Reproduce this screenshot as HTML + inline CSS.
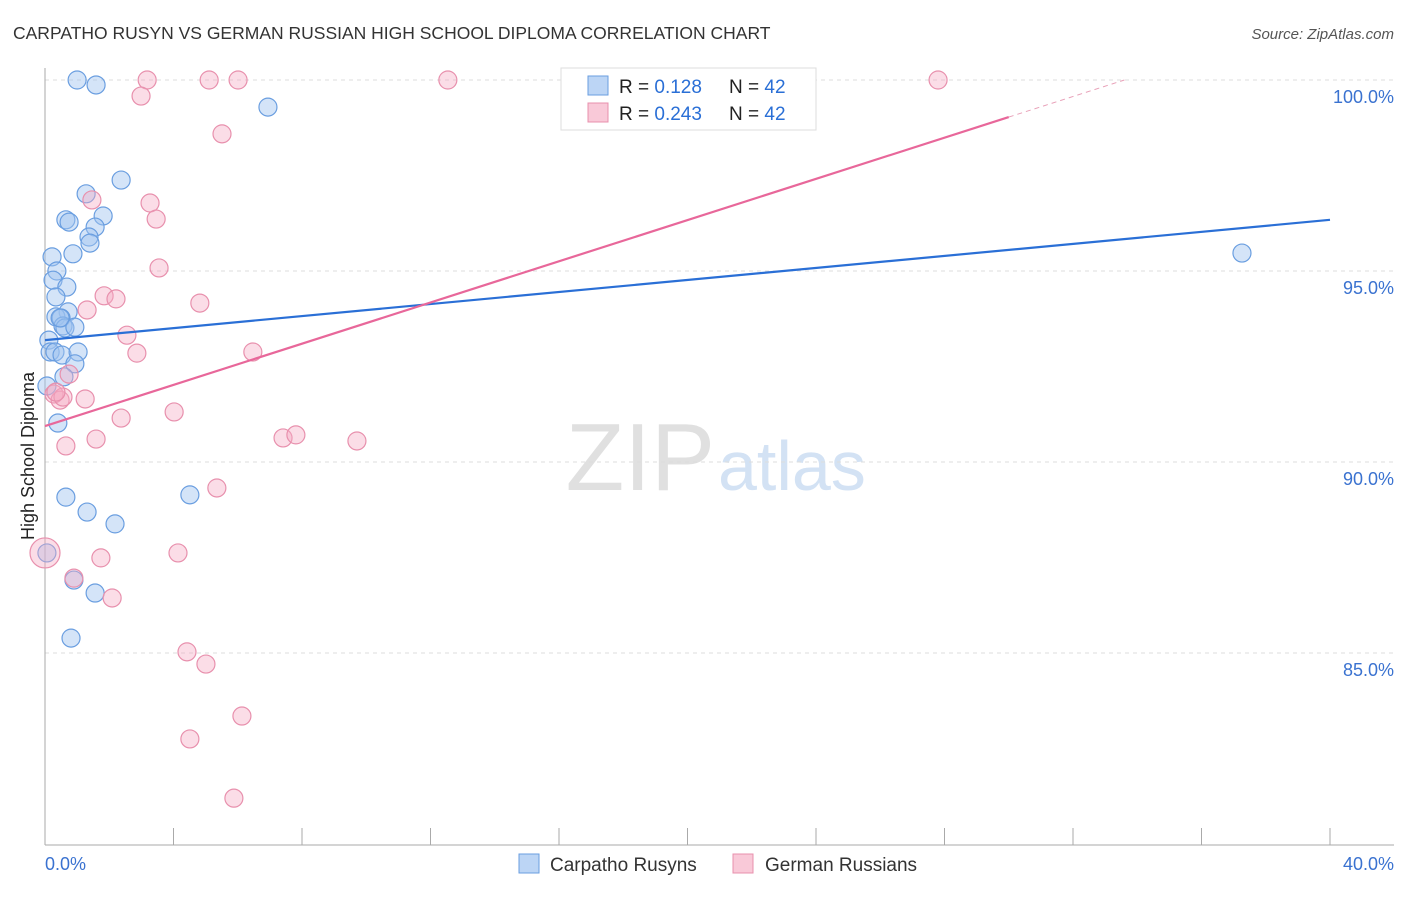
<!DOCTYPE html>
<html><head><meta charset="utf-8"><style>
body{margin:0;background:#fff;font-family:"Liberation Sans",sans-serif;}
svg text{font-family:"Liberation Sans",sans-serif;}
</style></head><body>
<svg id="chart" width="1406" height="892" viewBox="0 0 1406 892">
<text x="13" y="39" font-size="17.5" fill="#333">CARPATHO RUSYN VS GERMAN RUSSIAN HIGH SCHOOL DIPLOMA CORRELATION CHART</text>
<text x="1394" y="39" font-size="15" fill="#555" font-style="italic" text-anchor="end">Source: ZipAtlas.com</text>
<text x="715" y="490" font-size="96" fill="#e0e0e0" text-anchor="end" font-family="Liberation Serif">ZIP</text>
<text x="718" y="490" font-size="70" fill="#d3e2f4">atlas</text>
<text transform="translate(34,456) rotate(-90)" font-size="18" fill="#222" text-anchor="middle">High School Diploma</text>
<g id="grid"></g><g id="axes"></g><g id="pts"></g><g id="lines"></g>
<g>
<rect x="561" y="68" width="255" height="62" fill="#fff" stroke="#ddd"/>
<rect x="588" y="76" width="20" height="19" fill="#bcd5f5" stroke="#6a9ee0"/>
<rect x="588" y="103" width="20" height="19" fill="#f9c9d8" stroke="#e890ad"/>
<text x="619" y="93" font-size="19" fill="#222">R = <tspan fill="#2a6fd6">0.128</tspan></text>
<text x="729" y="93" font-size="19" fill="#222">N = <tspan fill="#2a6fd6">42</tspan></text>
<text x="619" y="120" font-size="19" fill="#222">R = <tspan fill="#2a6fd6">0.243</tspan></text>
<text x="729" y="120" font-size="19" fill="#222">N = <tspan fill="#2a6fd6">42</tspan></text>
</g>
<g>
<rect x="519" y="854" width="20" height="19" fill="#bcd5f5" stroke="#6a9ee0"/>
<text x="550" y="871" font-size="19" fill="#333">Carpatho Rusyns</text>
<rect x="733" y="854" width="20" height="19" fill="#f9c9d8" stroke="#e890ad"/>
<text x="765" y="871" font-size="19" fill="#333">German Russians</text>
</g>
<text x="45" y="870" font-size="18" fill="#3a72d0">0.0%</text>
<text x="1394" y="870" font-size="18" fill="#3a72d0" text-anchor="end">40.0%</text>
</svg>
<script>
const yTicks=[100,95,90,85];
const blueX=[1.0,1.59,6.94,2.37,1.28,1.81,0.65,0.75,1.56,1.37,1.40,0.87,0.22,0.37,0.25,0.68,0.34,0.72,0.34,0.50,0.56,0.62,0.93,0.12,0.16,0.31,0.53,1.03,0.93,0.59,0.06,0.40,0.65,1.31,2.18,4.51,0.06,0.90,1.56,0.81,37.26,0.47];
const blueY=[100,99.87,99.29,97.38,97.02,96.44,96.34,96.28,96.15,95.89,95.73,95.45,95.37,95.0,94.76,94.58,94.32,93.93,93.80,93.77,93.56,93.51,93.53,93.19,92.88,92.88,92.80,92.88,92.57,92.23,91.99,91.02,89.08,88.69,88.38,89.14,87.62,86.91,86.57,85.39,95.47,93.77];
const pinkX=[3.18,5.11,6.01,12.54,27.8,2.99,5.51,1.46,3.27,3.46,3.55,1.84,2.21,4.82,1.31,2.55,2.86,6.47,0.75,0.28,0.47,1.25,2.37,4.02,0.65,1.59,7.41,7.81,9.71,5.35,4.14,1.74,0.90,2.09,4.42,5.01,6.13,4.51,5.88,0,0.56,0.34];
const pinkY=[100,100,100,100,100,99.58,98.59,96.86,96.78,96.36,95.08,94.35,94.27,94.16,93.98,93.32,92.85,92.88,92.30,91.78,91.62,91.65,91.15,91.31,90.42,90.60,90.63,90.71,90.55,89.32,87.62,87.49,86.96,86.44,85.03,84.71,83.35,82.75,81.20,87.62,91.70,91.83];
const blueFit=[93.19,96.34];
const pinkFit=[90.94,100.0];
const ns="http://www.w3.org/2000/svg";
const sx=v=>45+v*32.125, sy=v=>80+(100-v)*38.2;
function mk(t,a,p){const e=document.createElementNS(ns,t);for(const k in a)e.setAttribute(k,a[k]);document.getElementById(p).appendChild(e);return e;}
yTicks.forEach(t=>{
 const l=mk('line',{x1:45,x2:1394,y1:sy(t),y2:sy(t),stroke:'#ddd','stroke-dasharray':'4,4'},'grid');
 
 
 const tx=mk('text',{x:1394,y:sy(t)+23,'font-size':18,fill:'#3a72d0','text-anchor':'end'},'grid');
 tx.textContent=t.toFixed(1)+'%';
 
 
});
mk('line',{x1:45,x2:45,y1:68,y2:845,stroke:'#aaa'},'axes');
mk('line',{x1:45,x2:1394,y1:845,y2:845,stroke:'#aaa'},'axes');
for(let i=0;i<=10;i++){const t=mk('line',{x1:sx(i*4),x2:sx(i*4),y1:828,y2:845,stroke:'#aaa'},'axes');
 
 }
function pts(X,Y,fill,stroke,name){X.forEach((x,i)=>{const c=mk('circle',{cx:sx(x),cy:sy(Y[i]),r:(name==='point-german-russian'&&x===0&&Y[i]<88)?15:9,fill:fill,stroke:stroke,'stroke-width':1.2},'pts');
 
 });}
pts(blueX,blueY,'rgba(160,195,240,0.45)','#6a9ee0','point-carpatho-rusyn');
pts(pinkX,pinkY,'rgba(245,170,195,0.4)','#e890ad','point-german-russian');
const bl=mk('line',{x1:sx(0),y1:sy(blueFit[0]),x2:sx(40),y2:sy(blueFit[1]),stroke:'#2a6fd6','stroke-width':2.2},'lines');


const slope=(pinkFit[1]-pinkFit[0])/33.6;
const pl=mk('line',{x1:sx(0),y1:sy(pinkFit[0]),x2:sx(30),y2:sy(pinkFit[0]+slope*30),stroke:'#e8679a','stroke-width':2.2},'lines');


const pd=mk('line',{x1:sx(30),y1:sy(pinkFit[0]+slope*30),x2:sx(33.6),y2:sy(pinkFit[1]),stroke:'#e8a0b8','stroke-width':1,'stroke-dasharray':'5,4'},'lines');


</script>
</body></html>
